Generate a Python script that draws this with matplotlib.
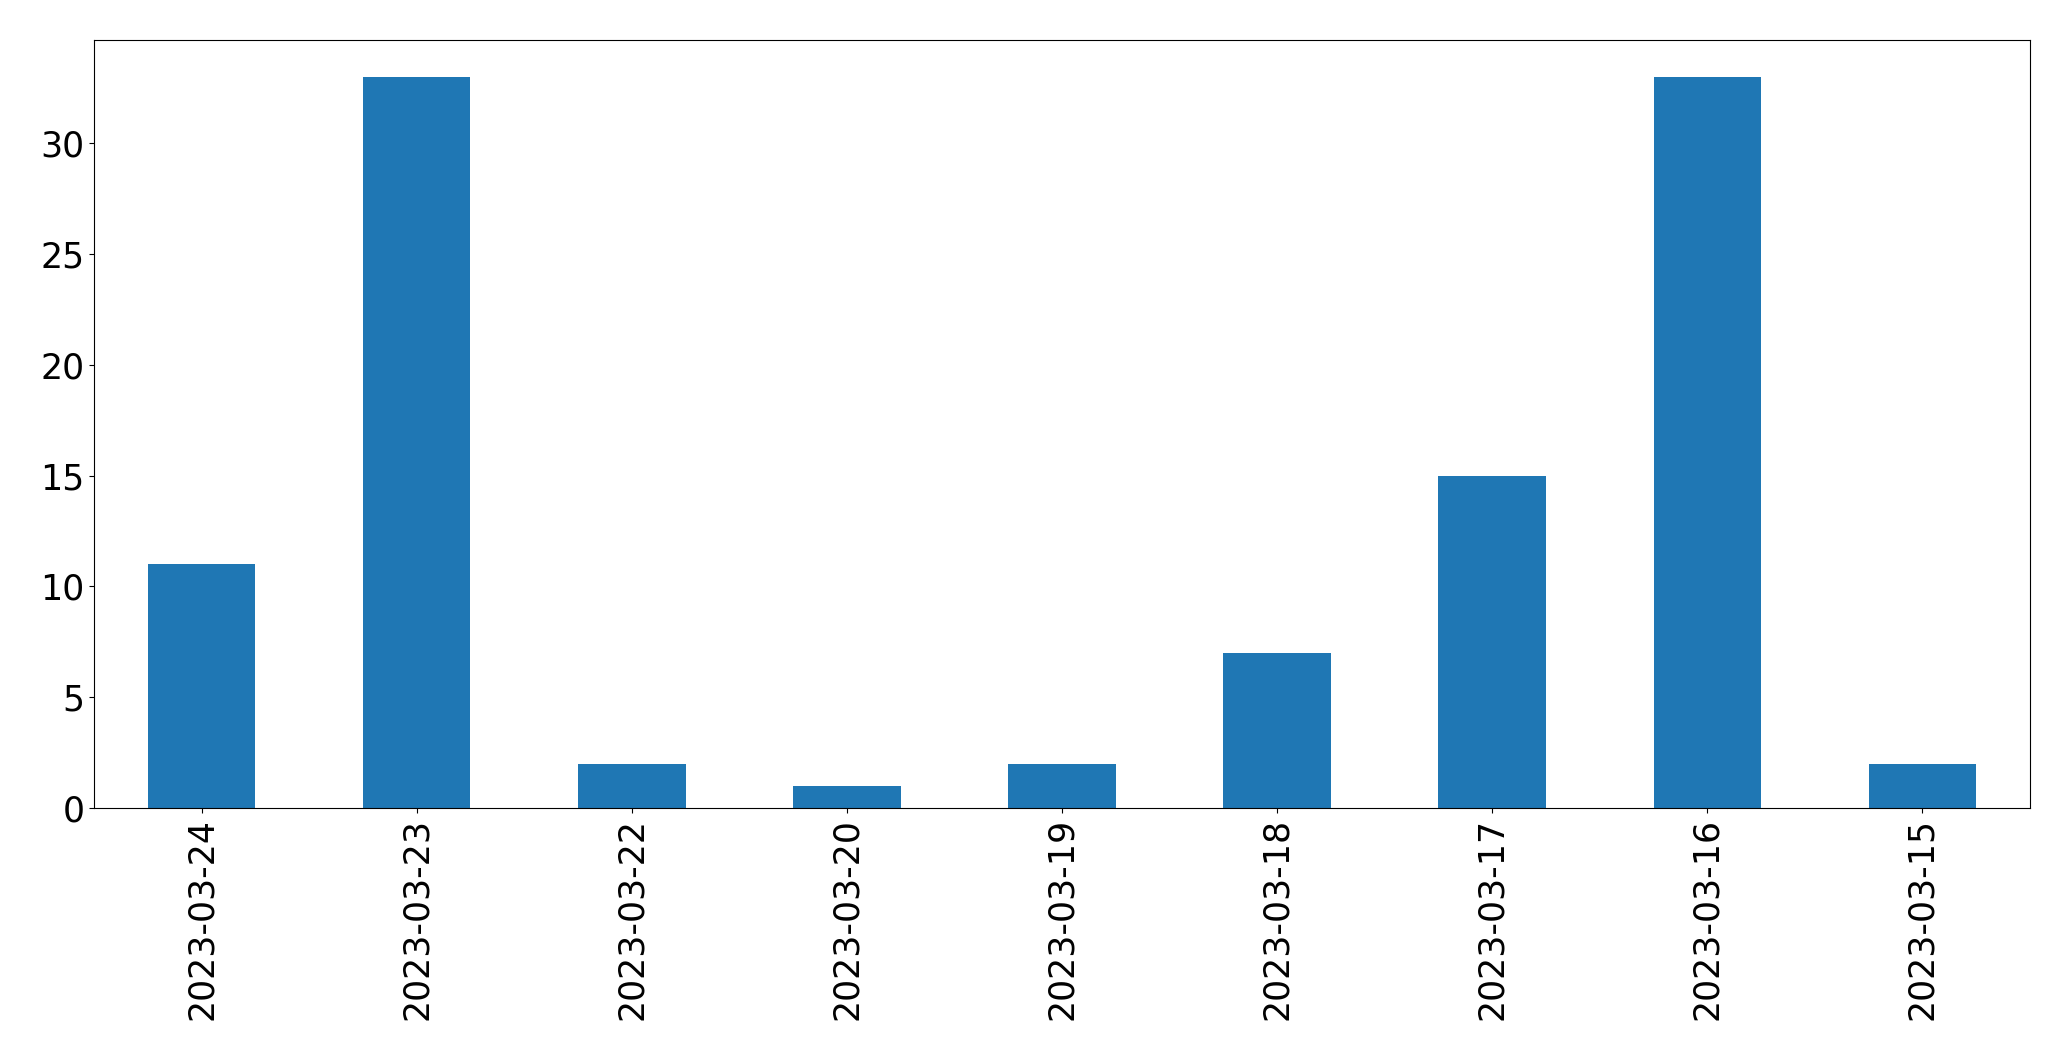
import matplotlib
matplotlib.use("Agg")
import matplotlib.pyplot as plt

dates = ["2023-03-24", "2023-03-23", "2023-03-22", "2023-03-20", "2023-03-19",
         "2023-03-18", "2023-03-17", "2023-03-16", "2023-03-15"]
counts = [11, 33, 2, 1, 2, 7, 15, 33, 2]

fig = plt.figure(figsize=(20.71, 10.61), dpi=100)
ax = fig.add_axes([94/2071, 1 - 808/1061, (2030-94)/2071, (808-40)/1061])
x = range(len(dates))
ax.bar(x, counts, width=0.5, color="#1f77b4")
ax.set_xticks(list(x))
ax.set_xticklabels(dates, rotation=90)
ax.set_xlim(-0.5, len(dates) - 0.5)
ax.set_ylim(0, 34.65)
ax.tick_params(labelsize=25)
fig.savefig("out.png", dpi=100)
